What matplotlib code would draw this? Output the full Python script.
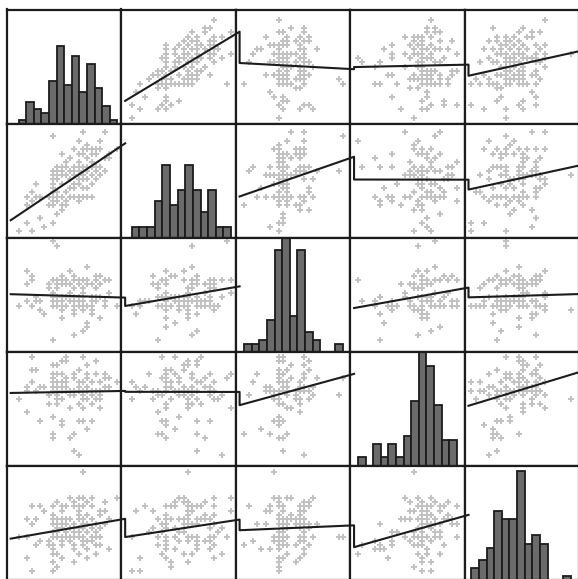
import numpy as np
import matplotlib
matplotlib.use("Agg")
import matplotlib.pyplot as plt
from matplotlib.lines import Line2D

# Five integer-scored variables, one entry per respondent (n = 120)
v1 = [0, 2, 2, 2, 3, 3, 3, 4, 4, 5,
      5, 6, 7, 7, 8, 8, 8, 8, 8, 8,
      8, 8, 8, 8, 8, 8, 9, 9, 9, 9,
      9, 9, 9, 9, 9, 9, 9, 10, 10, 10,
      10, 10, 10, 10, 10, 10, 10, 10, 11, 11,
      11, 11, 11, 11, 12, 12, 12, 12, 12, 13,
      13, 13, 13, 13, 13, 13, 13, 13, 14, 14,
      14, 14, 14, 14, 14, 14, 14, 14, 15, 15,
      15, 15, 15, 15, 15, 15, 15, 16, 16, 16,
      16, 16, 16, 16, 16, 17, 17, 17, 17, 17,
      17, 17, 17, 17, 18, 18, 18, 18, 18, 19,
      19, 19, 19, 19, 20, 20, 20, 21, 21, 23]
v2 = [0, 6, 2, 8, 0, 9, 7, 8, 11, 8,
      3, 1, 8, 6, 22, 7, 12, 9, 11, 8,
      8, 14, 2, 10, 13, 6, 8, 14, 12, 8,
      4, 15, 9, 8, 13, 7, 14, 8, 5, 15,
      6, 18, 8, 13, 5, 11, 14, 8, 6, 15,
      9, 16, 7, 13, 10, 17, 8, 14, 12, 15,
      8, 15, 11, 19, 8, 13, 10, 14, 8, 15,
      12, 7, 16, 14, 21, 11, 18, 8, 15, 19,
      13, 8, 18, 10, 15, 23, 12, 8, 19, 15,
      12, 17, 10, 20, 14, 8, 15, 18, 13, 16,
      13, 19, 11, 15, 14, 18, 12, 19, 15, 13,
      15, 19, 13, 21, 17, 14, 23, 18, 17, 19]
v3 = [8, 13, 9, 16, 8, 15, 14, 10, 9, 7,
      9, 6, 13, 12, 23, 10, 10, 8, 8, 8,
      8, 14, 8, 9, 11, 0, 13, 22, 9, 10,
      9, 14, 8, 10, 8, 10, 12, 7, 15, 13,
      10, 8, 8, 9, 13, 9, 14, 5, 8, 13,
      10, 8, 14, 8, 10, 9, 11, 13, 16, 6,
      14, 9, 8, 7, 10, 12, 15, 1, 8, 13,
      8, 8, 9, 9, 14, 10, 13, 10, 2, 14,
      7, 8, 12, 9, 8, 11, 10, 3, 13, 14,
      14, 13, 4, 8, 17, 9, 10, 9, 6, 8,
      8, 13, 7, 8, 14, 10, 9, 12, 15, 5,
      15, 13, 10, 10, 8, 9, 14, 14, 11, 8]
v4 = [13, 10, 15, 16, 17, 20, 23, 20, 15, 8,
      16, 16, 12, 14, 18, 5, 16, 17, 9, 18,
      4, 15, 15, 19, 21, 5, 15, 14, 15, 17,
      19, 21, 13, 16, 12, 14, 15, 8, 15, 17,
      15, 19, 7, 22, 13, 15, 15, 16, 15, 17,
      16, 23, 18, 22, 15, 4, 11, 15, 14, 5,
      19, 1, 18, 15, 15, 15, 15, 14, 15, 15,
      20, 8, 17, 12, 0, 17, 15, 16, 17, 15,
      13, 15, 14, 23, 8, 11, 15, 19, 15, 15,
      21, 16, 6, 13, 18, 17, 15, 8, 15, 12,
      15, 17, 14, 15, 19, 15, 15, 13, 22, 15,
      13, 17, 11, 14, 18, 16, 19, 16, 18, 17]
v5 = [8, 12, 3, 8, 0, 15, 11, 6, 12, 7,
      15, 14, 7, 6, 8, 11, 4, 2, 9, 12,
      5, 8, 0, 15, 13, 6, 12, 8, 11, 10,
      9, 12, 1, 8, 16, 4, 11, 7, 10, 15,
      6, 8, 3, 12, 14, 7, 15, 11, 8, 11,
      12, 15, 9, 11, 10, 7, 12, 8, 17, 5,
      11, 6, 9, 8, 10, 2, 16, 15, 13, 12,
      12, 9, 15, 14, 4, 17, 10, 8, 7, 11,
      23, 15, 12, 8, 6, 17, 10, 11, 3, 7,
      16, 13, 5, 9, 11, 10, 8, 7, 15, 12,
      7, 15, 17, 12, 4, 8, 9, 6, 11, 14,
      6, 13, 8, 10, 16, 11, 14, 5, 12, 17]

data = [np.asarray(v, dtype=float) for v in (v1, v2, v3, v4, v5)]
n = len(data)

# Axis ranges of each variable when it sits on the x axis (column) or y axis (row)
x_lims = [(-2.80, 23.88), (-2.46, 24.04), (-2.03, 24.68), (-1.87, 24.81), (-1.56, 24.94)]
y_lims = [(-1.33, 25.35), (-1.53, 24.97), (-2.83, 23.88), (-2.54, 24.14), (-2.09, 24.41)]
hist_tops = [32.3, 31.4, 29.0, 26.3, 28.2]

W, H = 578, 579
fig = plt.figure(figsize=(W / 100, H / 100), dpi=100)
fig.patch.set_facecolor("white")

left0, top0, cw, ch = 6.7, 9.5, 114.45, 114.1
frame_col = "#1c1c1c"
point_col = "#c2c2c2"

axes = [[None] * n for _ in range(n)]
for i in range(n):
    for j in range(n):
        ax = fig.add_axes([(left0 + j * cw) / W,
                           1 - (top0 + (i + 1) * ch) / H,
                           cw / W, ch / H])
        axes[i][j] = ax
        ax.set_xlim(x_lims[j])
        if i == j:
            ax.hist(data[i], bins=13, color="#6b6b6b",
                    edgecolor=frame_col, linewidth=1.3)
            ax.set_ylim(0, hist_tops[i])
        else:
            ax.plot(data[j], data[i], linestyle="none", marker="P",
                    markersize=4.5, markeredgewidth=0, color=point_col)
            ax.set_ylim(y_lims[i])
        ax.set_xticks([])
        ax.set_yticks([])
        for sp in ax.spines.values():
            sp.set_linewidth(1.6)
            sp.set_color(frame_col)
            sp.set_zorder(5)

# Least-squares line in every off-diagonal panel, joined along each row
to_fig = fig.transFigure.inverted()


def flush(path):
    if path:
        xs, ys = zip(*path)
        fig.add_artist(Line2D(xs, ys, transform=fig.transFigure,
                              color=frame_col, linewidth=1.5, zorder=10))


for i in range(n):
    path = []
    for j in range(n):
        if j == i:
            flush(path)
            path = []
            continue
        slope, icpt = np.polyfit(data[j], data[i], 1)
        lo, hi = x_lims[j]
        off = 0.035 * (hi - lo)
        xa, xb = lo + off, hi + off
        pts = axes[i][j].transData.transform([(xa, slope * xa + icpt),
                                              (xb, slope * xb + icpt)])
        path.extend(to_fig.transform(pts))
    flush(path)

fig.savefig("out.png", dpi=100, facecolor="white")
